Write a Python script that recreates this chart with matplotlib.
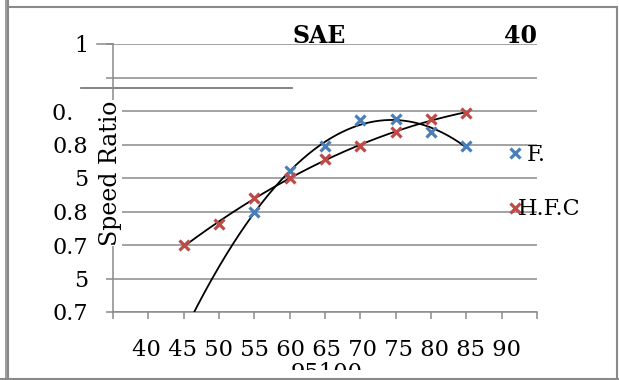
import matplotlib
import matplotlib.pyplot as plt
import numpy as np
from matplotlib.lines import Line2D
from matplotlib.transforms import Bbox, TransformedBbox

matplotlib.use("Agg")

# speed (x) and speed ratio readings for the two series
speed_hfc = [45, 50, 55, 60, 65, 70, 75, 80, 85]
ratio_hfc = [0.700, 0.731, 0.770, 0.800, 0.828, 0.848, 0.869, 0.888, 0.897]
speed_f = [55, 60, 65, 70, 75, 80, 85]
ratio_f = [0.749, 0.810, 0.848, 0.887, 0.888, 0.869, 0.848]

ytick_vals = [0.6, 0.65, 0.7, 0.75, 0.8, 0.85, 0.9, 0.95, 1.0]
ytick_text = ["0.7", "5", "0.7", "0.8", "5", "0.8", "0.  ", "", "1"]
xtick_vals = [35, 40, 45, 50, 55, 60, 65, 70, 75, 80, 85, 90, 95]
xlabel_text = "40 45 50 55 60 65 70 75 80 85 90\n95100"

W, H = 619, 380
BLUE = "#4a7ebb"
RED = "#be4b48"
GRID = "#8a8a8a"
plt.rcParams["font.family"] = ["DejaVu Serif"]

fig = plt.figure(figsize=(W / 100, H / 100), dpi=100)
ax = fig.add_axes([113 / W, 1 - 312 / H, 424 / W, 268 / H])


def axx(px):
    return (px - 113) / 424


def axy(py):
    return (312 - py) / 268


ax.set_xlim(35, 95)
ax.set_ylim(0.6, 1.0)
ax.set_xticks(xtick_vals)
ax.set_xticklabels([""] * len(xtick_vals))
ax.set_yticks(ytick_vals)
ax.set_yticklabels(ytick_text, fontsize=16)
ax.tick_params(axis="both", direction="out", length=5, width=1.1, color=GRID)
ax.tick_params(axis="y", pad=13)
for s in ["top", "right"]:
    ax.spines[s].set_visible(False)
for s in ["left", "bottom"]:
    ax.spines[s].set_color(GRID)
    ax.spines[s].set_linewidth(1.1)
ax.grid(axis="y", color=GRID, linewidth=1.1)
ax.set_axisbelow(True)

# trendlines (2nd order fits)
for xs, ys in [(speed_hfc, ratio_hfc), (speed_f, ratio_f)]:
    coef = np.polyfit(xs, ys, 2)
    xx = np.linspace(min(speed_hfc), max(xs), 200)
    ax.plot(xx, np.polyval(coef, xx), color="black", linewidth=1.3, zorder=3)

ax.plot(speed_f, ratio_f, "x", color=BLUE, markersize=6.5, mew=2.3, zorder=4)
ax.plot(speed_hfc, ratio_hfc, "x", color=RED, markersize=6.5, mew=2.3, zorder=4)

# stray lines at top left
ax.plot([axx(97), 0], [1, 1], transform=ax.transAxes, color=GRID, lw=1.1, clip_on=False)
ax.plot([axx(81), axx(292)], [axy(88), axy(88)], transform=ax.transAxes,
        color="#7a7a7a", lw=1.3, clip_on=False)

# legend entries
ax.plot([axx(515)], [axy(153)], "x", transform=ax.transAxes, color=BLUE,
        markersize=6.5, mew=2.3, clip_on=False)
ax.plot([axx(515)], [axy(208)], "x", transform=ax.transAxes, color=RED,
        markersize=6.5, mew=2.3, clip_on=False)
fig.text(527 / W, 1 - 155 / H, "F.", fontsize=16, va="center", ha="left")
fig.text(518 / W, 1 - 209 / H, "H.F.C", fontsize=16, va="center", ha="left")

# title
fig.text(292 / W, 1 - 43 / H, "SAE", fontsize=17, fontweight="bold", va="baseline")
fig.text(537 / W, 1 - 43 / H, "40", fontsize=17, fontweight="bold", va="baseline", ha="right")

# y label with white box
fig.text(110 / W, 1 - 173 / H, "Speed Ratio", fontsize=17, rotation=90,
         ha="center", va="center",
         bbox=dict(facecolor="white", edgecolor="none", pad=0.5), zorder=5)

# wrapped x labels, cut off at the bottom
xl = fig.text(327 / W, 1 - 339 / H, xlabel_text, fontsize=16.3, ha="center",
              va="top", linespacing=1.05)
xl.set_clip_box(TransformedBbox(Bbox([[0, 1 - 370 / H], [1, 1]]), fig.transFigure))
xl.set_clip_on(True)

# outer frame
for xs, ys, c in [
    ([5.5, 5.5], [0, H], "#a0a0a0"),
    ([8, 8], [0, H], "#888888"),
    ([8, 617], [7, 7], "#8a8a8a"),
    ([617, 617], [7, 379], "#8a8a8a"),
    ([0, W], [379, 379], "#8a8a8a"),
]:
    fig.add_artist(Line2D([x / W for x in xs], [1 - y / H for y in ys],
                          color=c, linewidth=1.5))

fig.savefig("out.png", dpi=100)
